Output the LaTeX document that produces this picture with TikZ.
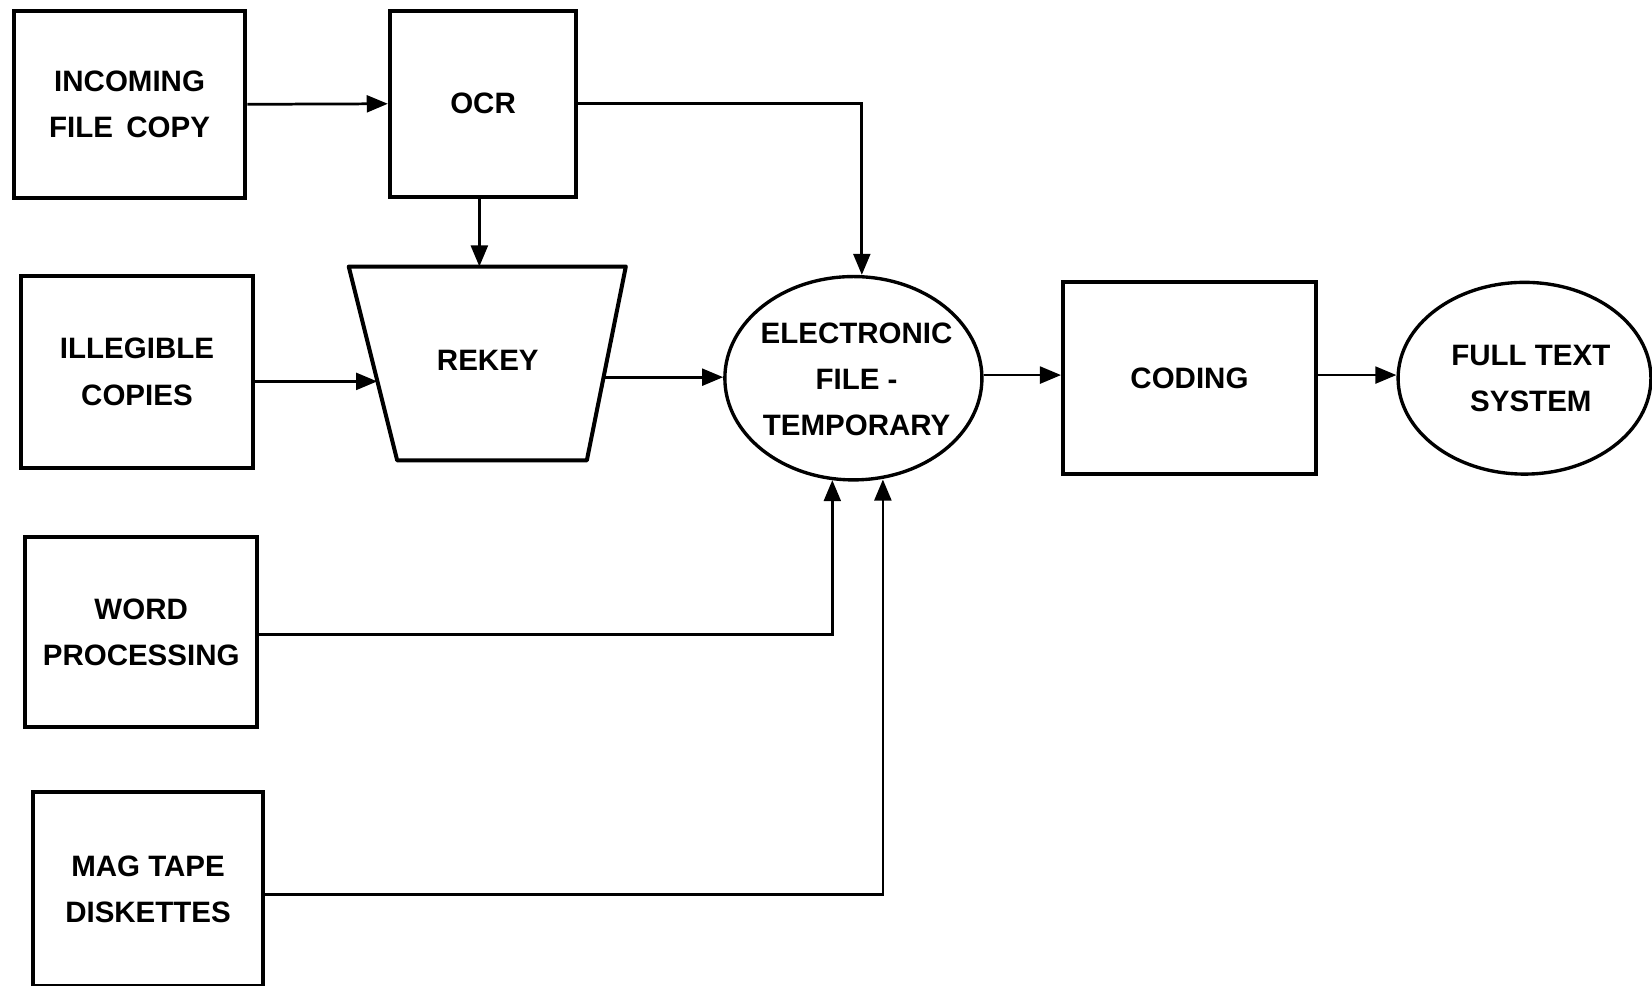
\documentclass[tikz,border=0pt]{standalone}
\usepackage{fontspec}
\setmainfont{Liberation Sans}
\usetikzlibrary{shapes.geometric,arrows.meta}
\begin{document}
\begin{tikzpicture}[x=0.5pt,y=-0.5pt,
  txt/.style={font=\bfseries\fontsize{14}{22}\selectfont,align=center},
  box/.style={draw,line width=1.9pt,txt},
  oval/.style={ellipse,draw,line width=1.6pt,inner sep=0pt},
  conn/.style={line width=1.3pt,-{Triangle[length=10pt,width=8pt]}}
]
\useasboundingbox (0,0) rectangle (1568,935);

% left column
\node[box,minimum width=110pt,minimum height=89pt] (inc) at (123,99) {INCOMING\\FILE\hspace{0.45em}COPY};
\node[box,minimum width=110pt,minimum height=91pt] (ill) at (130,353) {ILLEGIBLE\\COPIES};
\node[box,minimum width=110pt,minimum height=90pt] (word) at (134,600) {WORD\\PROCESSING};
\node[box,minimum width=109.5pt,minimum height=92pt] (mag) at (140.5,844) {MAG TAPE\\DISKETTES};

% OCR and REKEY
\node[box,minimum width=88.5pt,minimum height=88.5pt] (ocr) at (458.5,98.5) {OCR};
\draw[line width=1.9pt,line join=round] (331,253) -- (594,253) -- (557,437) -- (377,437) -- cycle;
\node[txt] (rekey) at (463,342) {REKEY};
\coordinate (rkN) at (455,253);
\coordinate (rkW) at (358,362);
\coordinate (rkE) at (573,358);

% electronic file
\node[oval,minimum width=122pt,minimum height=96.5pt] (elec) at (810,359) {};
\node[txt] (electxt) at (813,360) {ELECTRONIC\\FILE -\\TEMPORARY};

% coding and full text
\node[box,minimum width=120pt,minimum height=91pt] (coding) at (1129,359) {CODING};
\node[oval,minimum width=120pt,minimum height=91pt] (full) at (1447,359) {};
\node[txt] (fulltxt) at (1453,359) {FULL TEXT\\SYSTEM};

% connectors
\draw[conn] (inc.east) -- (ocr.west);
\draw[conn] (ocr.south -| rkN) -- (rkN);
\draw[conn] (ocr.east) -| ([xshift=4pt]elec.north);
\draw[conn] (ill.east |- rkW) -- (rkW);
\draw[conn] (rkE) -- (elec.west |- rkE);
\draw[conn] ([yshift=1.5pt]elec.east) -- ([yshift=1.5pt]coding.west);
\draw[conn] ([yshift=1.5pt]coding.east) -- ([yshift=1.5pt]full.west);
\draw[conn] ([yshift=-1pt]word.east) -| ([xshift=-10pt,yshift=0.7pt]elec.south);
\draw[conn] ([yshift=-2.5pt]mag.east) -| ([xshift=14pt,yshift=1pt]elec.south);
\end{tikzpicture}
\end{document}
